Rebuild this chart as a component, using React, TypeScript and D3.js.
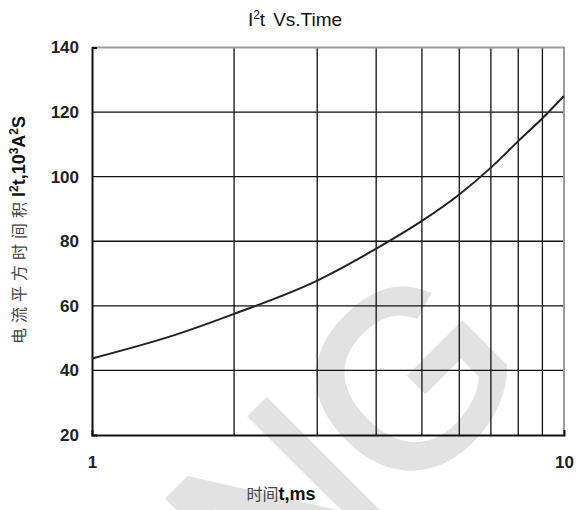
import React, { useRef, useEffect } from "react";
import { select, scaleLog, scaleLinear, axisLeft, axisBottom, line, curveMonotoneX } from "d3";

// I²t curve (t in ms, I²t in 10³A²s)
const times = [1, 1.5, 2, 3, 4, 5, 6, 7, 8, 9, 10];
const i2t = [43.7, 51.0, 57.5, 67.8, 77.7, 86.3, 94.5, 102.8, 111.0, 118.1, 125.0];
const xGrid = [2, 3, 4, 5, 6, 7, 8, 9];
const yTicks = [20, 40, 60, 80, 100, 120, 140];
const xTicks = [1, 10];

const W = 582;
const H = 510;
const left = 92;
const right = 564;
const top = 47.5;
const bottom = 435;
const latin = "'Liberation Sans', Arial, sans-serif";
const cjk = "'Noto Sans CJK SC', sans-serif";

function Chart() {
  const svgRef = useRef(null);

  useEffect(() => {
    const svg = select(svgRef.current);
    svg.selectAll("*").remove();

    const x = scaleLog().domain([1, 10]).range([left, right]);
    const y = scaleLinear().domain([20, 140]).range([bottom, top]);

    // watermark
    svg
      .append("text")
      .attr("transform", "translate(405,502) rotate(-45)")
      .attr("text-anchor", "middle")
      .attr("font-family", latin)
      .attr("font-size", 245)
      .attr("fill", "#e2e2e2")
      .attr("stroke", "#e2e2e2")
      .attr("stroke-width", 7)
      .text("NG");

    // grid
    svg
      .selectAll(".vgrid")
      .data(xGrid)
      .join("line")
      .attr("class", "vgrid")
      .attr("x1", (d) => x(d))
      .attr("x2", (d) => x(d))
      .attr("y1", top)
      .attr("y2", bottom)
      .attr("stroke", "#111")
      .attr("stroke-width", 1.3);

    svg
      .selectAll(".hgrid")
      .data(yTicks.slice(1, -1))
      .join("line")
      .attr("class", "hgrid")
      .attr("x1", left)
      .attr("x2", right)
      .attr("y1", (d) => y(d))
      .attr("y2", (d) => y(d))
      .attr("stroke", "#111")
      .attr("stroke-width", 1.3);

    // grey frame at top and right
    svg
      .append("path")
      .attr("d", `M${left},${top}H${right}V${bottom}`)
      .attr("fill", "none")
      .attr("stroke", "#9a9a9a")
      .attr("stroke-width", 2);

    // axes
    const yAxis = axisLeft(y).tickValues(yTicks).tickSize(0).tickSizeOuter(-5).tickPadding(13);
    const gy = svg.append("g").attr("transform", `translate(${left},0)`).call(yAxis);
    const xAxis = axisBottom(x).tickValues(xTicks).tickFormat((d) => String(d)).tickSize(0).tickSizeOuter(-5).tickPadding(21);
    const gx = svg.append("g").attr("transform", `translate(0,${bottom})`).call(xAxis);
    [gx, gy].forEach((g) => {
      g.select(".domain").attr("stroke", "#111").attr("stroke-width", 2);
      g.selectAll("text")
        .attr("font-family", latin)
        .attr("font-size", 17)
        .attr("font-weight", "bold")
        .attr("fill", "#222");
    });

    // curve
    const path = line()
      .x((d) => x(d[0]))
      .y((d) => y(d[1]))
      .curve(curveMonotoneX);
    svg
      .append("path")
      .datum(times.map((t, i) => [t, i2t[i]]))
      .attr("d", path)
      .attr("fill", "none")
      .attr("stroke", "#222")
      .attr("stroke-width", 2);
  }, []);

  return <svg ref={svgRef} width={W} height={H} style={{ display: "block", position: "absolute", left: 0, top: 0, background: "#fff" }} />;
}

function Labels() {
  return (
    <svg width={W} height={H} style={{ display: "block", position: "absolute", left: 0, top: 0, pointerEvents: "none" }}>
      <text x={295} y={26} textAnchor="middle" fontFamily={latin} fontSize={19} fill="#111">
        I<tspan dy={-7} fontSize={12}>2</tspan>
        <tspan dy={7}>t</tspan>
        <tspan dx={8}>Vs.Time</tspan>
      </text>
      <text x={281} y={500} textAnchor="middle" fill="#111">
        <tspan fontFamily={cjk} fontSize={16} fill="#444">时间</tspan>
        <tspan fontFamily={latin} fontSize={18} fontWeight="bold">t,ms</tspan>
      </text>
      <text transform="translate(25,230) rotate(-90)" textAnchor="middle" fill="#111">
        <tspan fontFamily={cjk} fontSize={16} fill="#444" letterSpacing={5}>电流平方时间积</tspan>
        <tspan fontFamily={latin} fontSize={18} fontWeight="bold">I</tspan>
        <tspan fontFamily={latin} fontSize={12} fontWeight="bold" dy={-7}>2</tspan>
        <tspan fontFamily={latin} fontSize={18} fontWeight="bold" dy={7}>t,10</tspan>
        <tspan fontFamily={latin} fontSize={12} fontWeight="bold" dy={-7}>3</tspan>
        <tspan fontFamily={latin} fontSize={18} fontWeight="bold" dy={7}>A</tspan>
        <tspan fontFamily={latin} fontSize={12} fontWeight="bold" dy={-7}>2</tspan>
        <tspan fontFamily={latin} fontSize={18} fontWeight="bold" dy={7}>S</tspan>
      </text>
    </svg>
  );
}

export default function App() {
  return (
    <div style={{ position: "fixed", left: 0, top: 0, width: W, height: H, background: "#fff" }}>
      <Chart />
      <Labels />
    </div>
  );
}
